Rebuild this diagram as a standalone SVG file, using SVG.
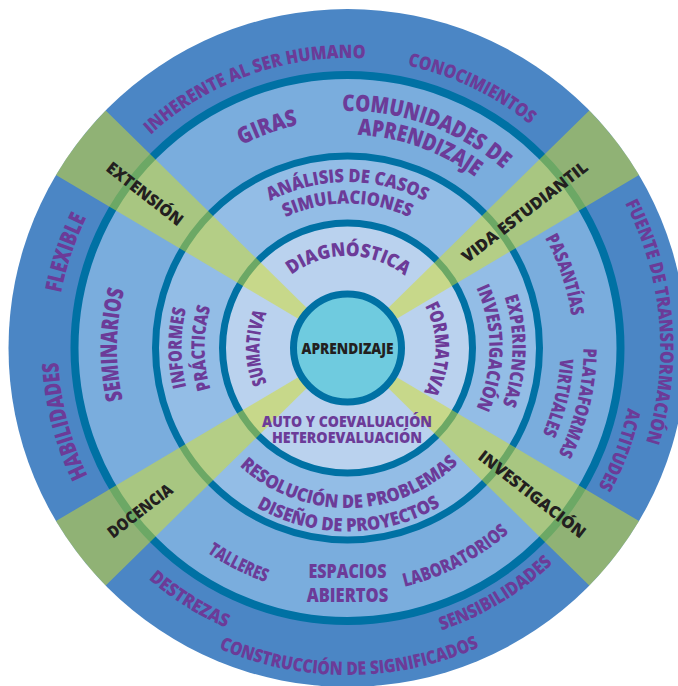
<svg xmlns="http://www.w3.org/2000/svg" width="678" height="686" viewBox="0 0 678 686">
<defs>
<style>
.t{font-family:"Open Sans","Noto Sans","Liberation Sans",sans-serif;font-weight:800;fill:#6c3b98;text-anchor:middle}
.k{fill:#231f20}
.s{stroke:#0071a4;stroke-width:7}
.w{fill:#d3de2a;fill-opacity:0.51}
</style>
<path id="p1" d="M71.5,446.3 A293,293 0 0 1 623.5,249.7"/>
<path id="p2" d="M83.3,221.4 A293,293 0 0 1 611.7,474.6"/>
<path id="p3" d="M320.1,35.2 A314,314 0 0 1 374.9,660.8"/>
<path id="p4" d="M449.1,76.4 A290,290 0 0 1 245.9,619.6"/>
<path id="p5" d="M89.5,503 A301,301 0 0 0 605.5,193"/>
<path id="p6" d="M20.5,349.7 A327,327 0 0 0 674.5,346.3"/>
<path id="p7" d="M89.1,185.9 A305,305 0 0 0 605.9,510.1"/>
<path id="p8" d="M421.1,632.6 A294,294 0 0 1 273.9,63.4"/>
<path id="p9" d="M253.4,626 A293.5,293.5 0 0 1 441.6,70"/>
<path id="p10" d="M128.6,427.7 A233,233 0 0 1 566.4,268.3"/>
<path id="p11" d="M124.6,267.3 A237,237 0 0 1 570.4,428.7"/>
<path id="p12" d="M145.1,275.5 A215,215 0 0 1 549.9,420.5"/>
<path id="p13" d="M274.4,131 A229,229 0 0 1 420.6,565"/>
<path id="p14" d="M402.2,118.4 A236,236 0 0 1 292.8,577.6"/>
<path id="p15" d="M396.5,140.7 A213,213 0 0 1 298.5,555.3"/>
<path id="p16" d="M129.3,460.6 A245.5,245.5 0 0 0 565.7,235.4"/>
<path id="p17" d="M126.3,235.8 A248,248 0 0 0 568.7,460.2"/>
<path id="p18" d="M344.3,578.5 A230.5,230.5 0 0 1 350.7,117.5"/>
<path id="p19" d="M181.5,348 A166,166 0 0 1 513.5,348"/>
<path id="p20" d="M203,348 A144.5,144.5 0 0 1 492,348"/>
<path id="p21" d="M350.4,183 A165,165 0 0 1 344.6,513"/>
<path id="p22" d="M347.5,206 A142,142 0 0 1 347.5,490"/>
<path id="p23" d="M347.5,514 A166,166 0 0 1 347.5,182"/>
<path id="p24" d="M347.5,491 A143,143 0 0 1 347.5,205"/>
<path id="p25" d="M187.5,350 A160,160 0 0 0 507.5,346"/>
<path id="p26" d="M164,349.3 A183.5,183.5 0 0 0 531,346.7"/>
<path id="p27" d="M255.5,347.2 A92,92 0 0 1 439.5,348.8"/>
<path id="p28" d="M348.7,260 A88,88 0 0 1 346.3,436"/>
<path id="p29" d="M347.5,436 A88,88 0 0 1 347.5,260"/>
</defs>

<g id="rings">
<circle cx="347.5" cy="348" r="339" fill="#4b86c5"/>
<circle cx="347.5" cy="348" r="273" fill="#7aaddd" stroke="#0071a4" stroke-width="8"/>
<circle cx="347.5" cy="348" r="192" fill="#93bde6" class="s"/>
<circle cx="347.5" cy="348" r="125" fill="#bad2ee" class="s"/>
</g>

<g id="connectors">
<path class="w" d="M347.5,348 L56,174.9 A339,339 0 0 1 105.7,110.4 Z"/>
<path class="w" d="M347.5,348 L589.3,110.4 A339,339 0 0 1 639,174.9 Z"/>
<path class="w" d="M347.5,348 L639,521.1 A339,339 0 0 1 589.3,585.6 Z"/>
<path class="w" d="M347.5,348 L105.7,585.6 A339,339 0 0 1 56,521.1 Z"/>
</g>

<g id="center">
<circle cx="347.5" cy="348" r="54" fill="#6fcbdf" class="s"/>
<text class="t k" x="347.5" y="354.3" font-size="15.5" textLength="92" lengthAdjust="spacingAndGlyphs">APRENDIZAJE</text>
</g>

<g id="outer-ring" font-size="18.5">
<text class="t"><textPath href="#p1" startOffset="50%" textLength="234" lengthAdjust="spacingAndGlyphs">INHERENTE AL SER HUMANO</textPath></text>
<text class="t"><textPath href="#p2" startOffset="50%" textLength="137" lengthAdjust="spacingAndGlyphs">CONOCIMIENTOS</textPath></text>
<text class="t"><textPath href="#p3" startOffset="50%" textLength="246" lengthAdjust="spacingAndGlyphs">FUENTE DE TRANSFORMACIÓN</textPath></text>
<text class="t"><textPath href="#p4" startOffset="50%" textLength="85" lengthAdjust="spacingAndGlyphs">ACTITUDES</textPath></text>
<text class="t"><textPath href="#p5" startOffset="50%" textLength="131" lengthAdjust="spacingAndGlyphs">SENSIBILIDADES</textPath></text>
<text class="t"><textPath href="#p6" startOffset="50%" textLength="268" lengthAdjust="spacingAndGlyphs">CONSTRUCCIÓN DE SIGNIFICADOS</textPath></text>
<text class="t"><textPath href="#p7" startOffset="50%" textLength="92" lengthAdjust="spacingAndGlyphs">DESTREZAS</textPath></text>
<text class="t" font-size="23"><textPath href="#p8" startOffset="50%" textLength="118" lengthAdjust="spacingAndGlyphs">HABILIDADES</textPath></text>
<text class="t" font-size="23"><textPath href="#p9" startOffset="50%" textLength="80" lengthAdjust="spacingAndGlyphs">FLEXIBLE</textPath></text>
</g>

<g id="ring-2" font-size="18.5">
<text class="t" font-size="23"><textPath href="#p10" startOffset="50%" textLength="60" lengthAdjust="spacingAndGlyphs">GIRAS</textPath></text>
<text class="t" font-size="23"><textPath href="#p11" startOffset="50%" textLength="175" lengthAdjust="spacingAndGlyphs">COMUNIDADES DE</textPath></text>
<text class="t" font-size="23"><textPath href="#p12" startOffset="50%" textLength="127" lengthAdjust="spacingAndGlyphs">APRENDIZAJE</textPath></text>
<text class="t"><textPath href="#p13" startOffset="50%" textLength="83" lengthAdjust="spacingAndGlyphs">PASANTÍAS</textPath></text>
<text class="t"><textPath href="#p14" startOffset="50%" textLength="110" lengthAdjust="spacingAndGlyphs">PLATAFORMAS</textPath></text>
<text class="t"><textPath href="#p15" startOffset="50%" textLength="78" lengthAdjust="spacingAndGlyphs">VIRTUALES</textPath></text>
<text class="t"><textPath href="#p16" startOffset="50%" textLength="119" lengthAdjust="spacingAndGlyphs">LABORATORIOS</textPath></text>
<text class="t"><textPath href="#p17" startOffset="50%" textLength="66" lengthAdjust="spacingAndGlyphs">TALLERES</textPath></text>
<text class="t" font-size="23"><textPath href="#p18" startOffset="50%" textLength="111" lengthAdjust="spacingAndGlyphs">SEMINARIOS</textPath></text>
<text class="t" x="347.5" y="578" textLength="78" lengthAdjust="spacingAndGlyphs">ESPACIOS</text>
<text class="t" x="347.5" y="601.5" textLength="81.6" lengthAdjust="spacingAndGlyphs">ABIERTOS</text>
</g>

<g id="ring-3" font-size="18.5">
<text class="t"><textPath href="#p19" startOffset="50%" textLength="161" lengthAdjust="spacingAndGlyphs">ANÁLISIS DE CASOS</textPath></text>
<text class="t"><textPath href="#p20" startOffset="50%" textLength="128" lengthAdjust="spacingAndGlyphs">SIMULACIONES</textPath></text>
<text class="t"><textPath href="#p21" startOffset="50%" textLength="110" lengthAdjust="spacingAndGlyphs">EXPERIENCIAS</textPath></text>
<text class="t"><textPath href="#p22" startOffset="50%" textLength="124" lengthAdjust="spacingAndGlyphs">INVESTIGACIÓN</textPath></text>
<text class="t"><textPath href="#p23" startOffset="50%" textLength="79" lengthAdjust="spacingAndGlyphs">INFORMES</textPath></text>
<text class="t"><textPath href="#p24" startOffset="50%" textLength="83" lengthAdjust="spacingAndGlyphs">PRÁCTICAS</textPath></text>
<text class="t"><textPath href="#p25" startOffset="50%" textLength="241" lengthAdjust="spacingAndGlyphs">RESOLUCIÓN DE PROBLEMAS</textPath></text>
<text class="t"><textPath href="#p26" startOffset="50%" textLength="193" lengthAdjust="spacingAndGlyphs">DISEÑO DE PROYECTOS</textPath></text>
</g>

<g id="ring-4" font-size="19">
<text class="t"><textPath href="#p27" startOffset="50%" textLength="122" lengthAdjust="spacingAndGlyphs">DIAGNÓSTICA</textPath></text>
<text class="t"><textPath href="#p28" startOffset="50%" textLength="90" lengthAdjust="spacingAndGlyphs">FORMATIVA</textPath></text>
<text class="t"><textPath href="#p29" startOffset="50%" textLength="72" lengthAdjust="spacingAndGlyphs">SUMATIVA</textPath></text>
<text class="t" x="347" y="427" font-size="16" textLength="170" lengthAdjust="spacingAndGlyphs">AUTO Y COEVALUACIÓN</text>
<text class="t" x="347" y="442.5" font-size="16" textLength="150" lengthAdjust="spacingAndGlyphs">HETEROEVALUACIÓN</text>
</g>

<g id="wedge-labels" font-size="16.5">
<text id="extension" class="t k" transform="translate(145,193.7) rotate(38)" x="0" y="5.9" textLength="92" lengthAdjust="spacingAndGlyphs">EXTENSIÓN</text>
<text id="vida" class="t k" transform="translate(524.7,211.7) rotate(-37.6)" x="0" y="5.9" textLength="154" lengthAdjust="spacingAndGlyphs">VIDA ESTUDIANTIL</text>
<text id="docencia" class="t k" transform="translate(140,510.8) rotate(-37.6)" x="0" y="5.9" textLength="77" lengthAdjust="spacingAndGlyphs">DOCENCIA</text>
<text id="investigacion" class="t k" transform="translate(532.2,494.2) rotate(38)" x="0" y="5.9" textLength="131" lengthAdjust="spacingAndGlyphs">INVESTIGACIÓN</text>
</g>
</svg>
